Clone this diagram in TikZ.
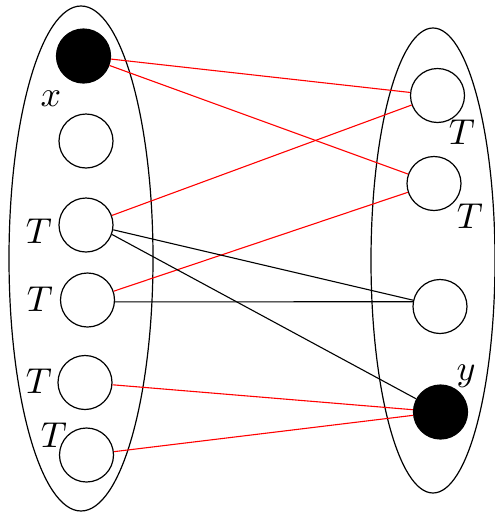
\documentclass[tikz,border=0pt]{standalone}
\begin{document}
\begin{tikzpicture}[x=1pt,y=-1pt,
  vtx/.style={circle,draw,line width=1.2pt,minimum size=54pt,inner sep=0pt},
  blk/.style={vtx,fill=black},
  lbl/.style={scale=3.6,inner sep=0pt},
  redge/.style={red,line width=1.1pt},
  bedge/.style={black,line width=1.1pt},
  set/.style={line width=1.2pt}]
\useasboundingbox (0,0) rectangle (495,512);
\draw[set] (81,258.5) ellipse [x radius=72, y radius=252.5];
\draw[set] (433,260.5) ellipse [x radius=62, y radius=232.5];
\node[blk] (l1) at (83.5,56) {};
\node[vtx] (l2) at (86,141) {};
\node[vtx] (l3) at (86,225) {};
\node[vtx] (l4) at (87.5,300) {};
\node[vtx] (l5) at (85,382.5) {};
\node[vtx] (l6) at (86.5,455) {};
\node[vtx] (r1) at (437.5,95.5) {};
\node[vtx] (r2) at (434,183.5) {};
\node[vtx] (r3) at (440,306.5) {};
\node[blk] (r4) at (440.5,412) {};
\node[lbl] (tx) at (51,99) {$x$};
\node[lbl] (t3) at (39,231) {$T$};
\node[lbl] (t4) at (40,299) {$T$};
\node[lbl] (t5) at (39,381) {$T$};
\node[lbl] (t6) at (54,435) {$T$};
\node[lbl] (tr1) at (462,132) {$T$};
\node[lbl] (tr2) at (470,216) {$T$};
\node[lbl] (ty) at (466,376) {$y$};
\draw[redge] (l1) -- (r1);
\draw[redge] (l1) -- (r2);
\draw[redge] (l3) -- (r1);
\draw[redge] (l4) -- (r2);
\draw[bedge] (l3.-10) -- (r3);
\draw[bedge] (l3.-20) -- (r4);
\draw[bedge] (l4.-4) -- (r3.170);
\draw[redge] (l5) -- (r4);
\draw[redge] (l6) -- (r4);
\end{tikzpicture}
\end{document}
